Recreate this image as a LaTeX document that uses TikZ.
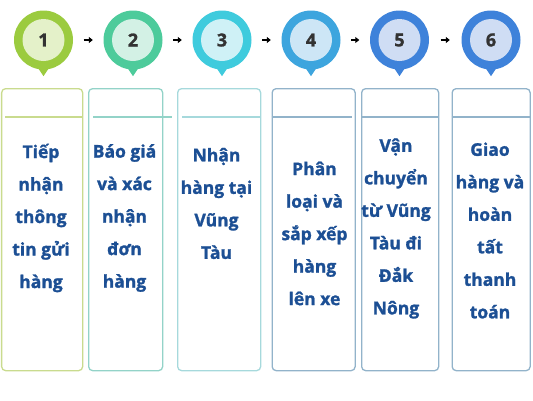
\documentclass[tikz,border=0pt]{standalone}
\usepackage{fontspec}
\setmainfont{Open Sans}
\newfontfamily\stepfont{Open Sans}[BoldFeatures={FakeBold=1.4}]
\usetikzlibrary{arrows.meta}
\definecolor{pinA}{HTML}{9BCB3F}
\definecolor{pinB}{HTML}{4DCB9B}
\definecolor{pinC}{HTML}{3FCBDD}
\definecolor{pinD}{HTML}{3DA5DE}
\definecolor{pinE}{HTML}{3E82DA}
\definecolor{inA}{HTML}{E4F1C9}
\definecolor{inB}{HTML}{D3F1E5}
\definecolor{inC}{HTML}{CFF1F6}
\definecolor{inD}{HTML}{CDE6F6}
\definecolor{inE}{HTML}{CFDDF4}
\definecolor{edgeA}{HTML}{C9DB8E}
\definecolor{edgeB}{HTML}{93D3C8}
\definecolor{edgeC}{HTML}{A6D9DC}
\definecolor{edgeD}{HTML}{92B3CA}
\definecolor{txtblue}{HTML}{1C4F94}
\tikzset{
  pin/.style={circle, fill=#1, minimum size=59pt, inner sep=0pt},
  numdisc/.style={circle, fill=#1, minimum size=42pt, inner sep=0pt,
    font=\stepfont\bfseries\fontsize{18}{20}\selectfont, text=black!80},
  stepbox/.style={draw=#1, line width=1.3pt, rounded corners=4pt,
    minimum height=282pt, anchor=north west, inner sep=0pt},
  steptext/.style={align=center, text=txtblue,
    font=\stepfont\bfseries\fontsize{17.5}{32.5}\selectfont},
  flow/.style={-{Triangle[length=4pt,width=6pt]}, line width=1.8pt,
    shorten >=10.5pt, shorten <=10.5pt}
}
\begin{document}
\begin{tikzpicture}[x=1pt,y=-1pt]
  \useasboundingbox (0,0) rectangle (533,400);
  \node[pin=pinA] (p1) at (43.5,40) {};
  \node[pin=pinB] (p2) at (133,40) {};
  \node[pin=pinC] (p3) at (222,40) {};
  \node[pin=pinD] (p4) at (311,40) {};
  \node[pin=pinE] (p5) at (399.5,40) {};
  \node[pin=pinE] (p6) at (491,40) {};
  \fill[pinA] ([xshift=-7pt,yshift=4pt]p1.south) -- ([xshift=7pt,yshift=4pt]p1.south) -- ([yshift=-6.5pt]p1.south) -- cycle;
  \fill[pinB] ([xshift=-7pt,yshift=4pt]p2.south) -- ([xshift=7pt,yshift=4pt]p2.south) -- ([yshift=-6.5pt]p2.south) -- cycle;
  \fill[pinC] ([xshift=-7pt,yshift=4pt]p3.south) -- ([xshift=7pt,yshift=4pt]p3.south) -- ([yshift=-6.5pt]p3.south) -- cycle;
  \fill[pinD] ([xshift=-7pt,yshift=4pt]p4.south) -- ([xshift=7pt,yshift=4pt]p4.south) -- ([yshift=-6.5pt]p4.south) -- cycle;
  \fill[pinE] ([xshift=-7pt,yshift=4pt]p5.south) -- ([xshift=7pt,yshift=4pt]p5.south) -- ([yshift=-6.5pt]p5.south) -- cycle;
  \fill[pinE] ([xshift=-7pt,yshift=4pt]p6.south) -- ([xshift=7pt,yshift=4pt]p6.south) -- ([yshift=-6.5pt]p6.south) -- cycle;
  \node[numdisc=inA] (n1) at (p1) {1};
  \node[numdisc=inB] (n2) at (p2) {2};
  \node[numdisc=inC] (n3) at (p3) {3};
  \node[numdisc=inD] (n4) at (p4) {4};
  \node[numdisc=inE] (n5) at (p5) {5};
  \node[numdisc=inE] (n6) at (p6) {6};
  \begin{scope}[flow]
    \draw (p1) to (p2);
    \draw (p2) to (p3);
    \draw (p3) to (p4);
    \draw (p4) to (p5);
    \draw[shorten >=11.5pt, shorten <=11.5pt] (p5) to (p6);
  \end{scope}
  \node[stepbox=edgeA, minimum width=81pt] (b1) at (1,88) {};
  \node[stepbox=edgeB, minimum width=74pt] (b2) at (88,88) {};
  \node[stepbox=edgeC, minimum width=83pt] (b3) at (177,88) {};
  \node[stepbox=edgeD, minimum width=83pt] (b4) at (271.5,88) {};
  \node[stepbox=edgeD, minimum width=77pt] (b5) at (361,88) {};
  \node[stepbox=edgeD, minimum width=78pt] (b6) at (451.5,88) {};
  \draw[edgeA, line width=1.3pt] ([yshift=-29pt,xshift=4pt]b1.north west) -- ([yshift=-29pt]b1.north east);
  \draw[edgeB, line width=1.3pt] ([yshift=-29pt,xshift=5pt]b2.north west) -- ([yshift=-29pt,xshift=9pt]b2.north east);
  \draw[edgeC, line width=1.3pt] ([yshift=-29pt,xshift=5pt]b3.north west) -- ([yshift=-29pt]b3.north east);
  \draw[edgeD, line width=1.3pt] ([yshift=-29pt]b4.north west) -- ([yshift=-29pt,xshift=-4pt]b4.north east);
  \draw[edgeD, line width=1.3pt] ([yshift=-29pt]b5.north west) -- ([yshift=-29pt]b5.north east);
  \draw[edgeD, line width=1.3pt] ([yshift=-29pt]b6.north west) -- ([yshift=-29pt]b6.north east);
  \node[steptext] (t1) at (41,218) {Tiếp\\nhận\\thông\\tin gửi\\hàng};
  \node[steptext] (t2) at (124.5,218) {Báo giá\\và xác\\nhận\\đơn\\hàng};
  \node[steptext] (t3) at (216.5,203.5) {Nhận\\hàng tại\\Vũng\\Tàu};
  \node[steptext] (t4) at (314.5,233.5) {Phân\\loại và\\sắp xếp\\hàng\\lên xe};
  \node[steptext] (t5) at (396,228.5) {Vận\\chuyển\\từ Vũng\\Tàu đi\\Đắk\\Nông};
  \node[steptext] (t6) at (490,230.5) {Giao\\hàng và\\hoàn\\tất\\thanh\\toán};
\end{tikzpicture}
\end{document}
